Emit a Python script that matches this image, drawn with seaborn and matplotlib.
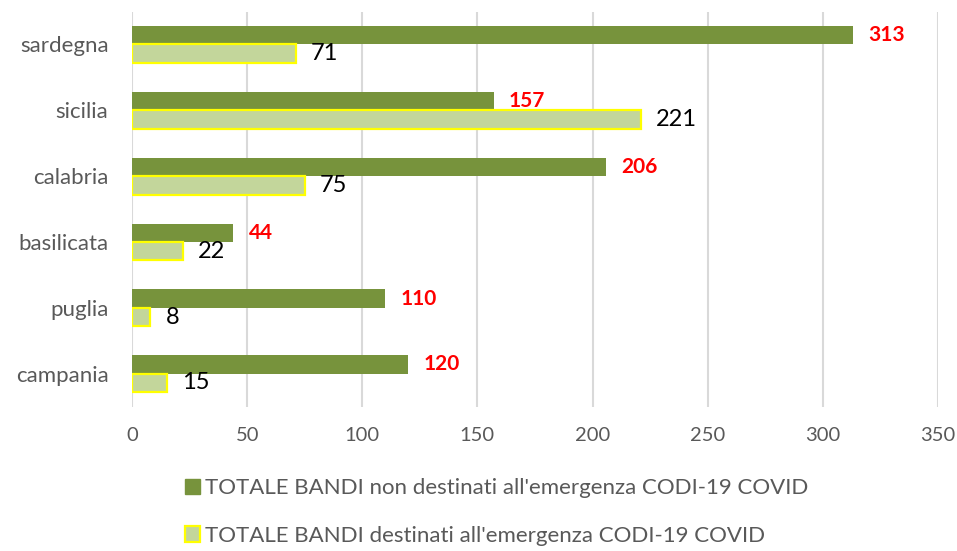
import matplotlib
matplotlib.use("Agg")
import matplotlib.pyplot as plt
import seaborn as sns
import pandas as pd
from matplotlib.patches import Patch

regioni = ["sardegna", "sicilia", "calabria", "basilicata", "puglia", "campania"]
serie_non_covid = [313, 157, 206, 44, 110, 120]
serie_covid = [71, 221, 75, 22, 8, 15]
nome_non_covid = "TOTALE BANDI non destinati all'emergenza CODI-19 COVID"
nome_covid = "TOTALE BANDI destinati all'emergenza CODI-19 COVID"
x_ticks = [0, 50, 100, 150, 200, 250, 300, 350]

df = pd.DataFrame({
    "regione": regioni * 2,
    "valore": serie_non_covid + serie_covid,
    "serie": [nome_non_covid] * len(regioni) + [nome_covid] * len(regioni),
})

sns.set_theme(style="white")
plt.rcParams["font.family"] = ["Lato", "DejaVu Sans"]

fig = plt.figure(figsize=(9.57, 5.51), dpi=100)
ax = fig.add_axes([0.138, 0.262, 0.842, 0.717])

dark = "#77933C"
light = "#C3D69B"
sns.barplot(data=df, y="regione", x="valore", hue="serie", orient="h",
            order=regioni, hue_order=[nome_non_covid, nome_covid],
            palette=[dark, light], width=0.56, ax=ax, legend=False,
            saturation=1, linewidth=0)

c1, c2 = ax.containers
for p in c2:
    p.set_edgecolor("#FFFF00")
    p.set_linewidth(1.6)

ax.bar_label(c1, labels=[str(v) for v in serie_non_covid], padding=11,
             color="#FF0000", fontweight="bold", fontsize=15)
ax.bar_label(c2, labels=[str(v) for v in serie_covid], padding=11,
             color="black", fontsize=17)

ax.set_xlim(0, 350)
ax.set_ylim(5.5, -0.5)
ax.set_xticks(x_ticks)
ax.set_xticklabels([str(t) for t in x_ticks])
ax.grid(axis="x", color="#D9D9D9", linewidth=1.5)
ax.set_axisbelow(True)
for s in ax.spines.values():
    s.set_visible(False)
ax.set_xlabel("")
ax.set_ylabel("")
ax.tick_params(axis="both", colors="#595959", length=0)
ax.tick_params(axis="x", pad=15, labelsize=14.5)
ax.tick_params(axis="y", pad=17, labelsize=16)

handles = [Patch(facecolor=dark, edgecolor=dark),
           Patch(facecolor=light, edgecolor="#FFFF00", linewidth=1.6)]
leg = fig.legend(handles, [nome_non_covid, nome_covid], loc="lower left",
                 bbox_to_anchor=(0.172, -0.027), frameon=False, ncol=1,
                 fontsize=16, labelspacing=1.25, handlelength=0.7,
                 handleheight=0.7, handletextpad=0.2, labelcolor="#595959")

fig.savefig("out.png", dpi=100)
